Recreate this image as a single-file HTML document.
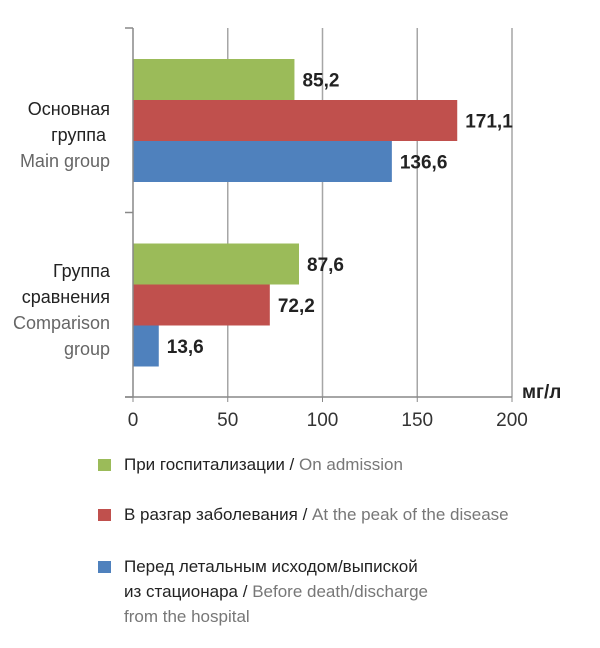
<!DOCTYPE html>
<html><head><meta charset="utf-8"><style>
body{margin:0;background:#fff;}
svg text{font-family:"Liberation Sans Narrow","Liberation Sans",sans-serif;}
</style></head><body>
<svg width="600" height="643" viewBox="0 0 600 643" xmlns="http://www.w3.org/2000/svg">
<g id="grid"></g>
<g id="bars"></g>
<g id="axes"></g>
<g font-size="18" text-anchor="end">
<text x="110" y="115" fill="#222">Основная</text>
<text x="106" y="141" fill="#222">группа</text>
<text x="110" y="167" fill="#666">Main group</text>
<text x="110" y="277" fill="#222">Группа</text>
<text x="110" y="303" fill="#222">сравнения</text>
<text x="110" y="329" fill="#666">Comparison</text>
<text x="110" y="355" fill="#666">group</text>
</g>
<text x="522" y="398" font-size="19" font-weight="bold" fill="#222">мг/л</text>
<g font-size="17">
<g>
<rect x="98" y="459" width="13" height="12" fill="#9bbb59"/>
<text x="124" y="470"><tspan fill="#222">При госпитализации / </tspan><tspan fill="#777">On admission</tspan></text></g>
<g>
<rect x="98" y="509" width="13" height="12" fill="#c0504d"/>
<text x="124" y="520"><tspan fill="#222">В разгар заболевания / </tspan><tspan fill="#777">At the peak of the disease</tspan></text></g>
<g>
<rect x="98" y="561" width="13" height="12" fill="#4f81bd"/>
<text x="124" y="572" fill="#222">Перед летальным исходом/выпиской</text>
<text x="124" y="597"><tspan fill="#222">из стационара / </tspan><tspan fill="#777">Before death/discharge</tspan></text>
<text x="124" y="622" fill="#777">from the hospital</text></g>
</g>
</svg>
<script>
const categories=["Основная группа","Группа сравнения"];
const seriesNames=["admission","peak","before"];
const admission=[85.2,87.6];
const peak=[171.1,72.2];
const before=[136.6,13.6];
const labelsAdmission=["85,2","87,6"];
const labelsPeak=["171,1","72,2"];
const labelsBefore=["136,6","13,6"];
const ticks=[0,50,100,150,200];
const NS="http://www.w3.org/2000/svg";
const x0=133,x1=512,yTop=28,yBottom=397,xmax=200;
const xs=v=>x0+(x1-x0)*v/xmax;
const band=(yBottom-yTop)/categories.length;
const colors=["#9bbb59","#c0504d","#4f81bd"];
const series=[admission,peak,before];
const labels=[labelsAdmission,labelsPeak,labelsBefore];
function mk(t,a,p){const e=document.createElementNS(NS,t);for(const k in a)e.setAttribute(k,a[k]);p.appendChild(e);return e;}
const grid=document.getElementById('grid'),bars=document.getElementById('bars'),axes=document.getElementById('axes');
ticks.forEach(t=>{
 if(t>0){const l=mk('line',{x1:xs(t),x2:xs(t),y1:yTop,y2:yBottom,stroke:'#a6a6a6','stroke-width':1.5},grid);
 
 }
 const tk=mk('line',{x1:xs(t),x2:xs(t),y1:yBottom,y2:yBottom+5,stroke:'#888','stroke-width':1},axes);
 
 
 const tx=mk('text',{x:xs(t),y:yBottom+29,'text-anchor':'middle','font-size':19,fill:'#333'},axes);
 tx.textContent=t;
 
 
});
const ya=mk('line',{x1:x0,x2:x0,y1:yTop,y2:yBottom,stroke:'#888','stroke-width':1.5},axes);


const xa=mk('line',{x1:x0-8,x2:x1,y1:yBottom,y2:yBottom,stroke:'#888','stroke-width':1.5},axes);


for(let i=0;i<=categories.length;i++){
 const y=yTop+band*i;
 const t=mk('line',{x1:x0-8,x2:x0,y1:y,y2:y,stroke:'#888','stroke-width':1.5},axes);
 
 
}
const bh=41,off=31;
categories.forEach((c,ci)=>{
 series.forEach((s,si)=>{
  const y=yTop+band*ci+off+si*bh;
  const r=mk('rect',{x:x0,y:y,width:xs(s[ci])-x0,height:bh,fill:colors[si]},bars);
  
  
  const t=mk('text',{x:xs(s[ci])+8,y:y+bh/2+7,'font-size':19,'font-weight':'bold',fill:'#222'},bars);
  t.textContent=labels[si][ci];
  
  
 });
});
</script>
</body></html>
